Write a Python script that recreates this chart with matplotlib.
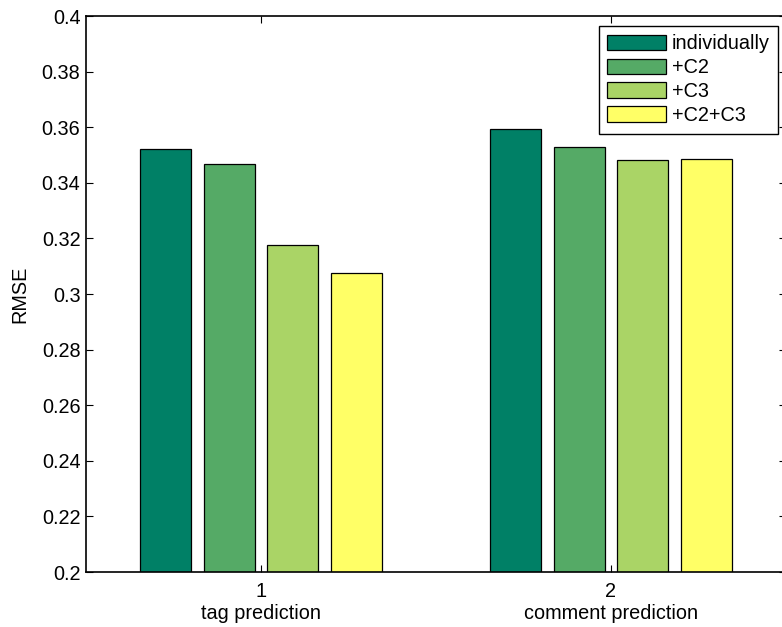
import matplotlib
matplotlib.use("Agg")
import matplotlib.pyplot as plt
import numpy as np

plt.rcParams['font.family'] = ['Liberation Sans', 'DejaVu Sans']

groups = ['1', '2']
group_names = ['tag prediction', 'comment prediction']
series = ['individually', '+C2', '+C3', '+C2+C3']
values = [
    [0.3521, 0.3595],   # individually
    [0.3467, 0.3530],   # +C2
    [0.3177, 0.3482],   # +C3
    [0.3076, 0.3487],   # +C2+C3
]
colors = ['#008066', '#55AA66', '#AAD466', '#FFFF66']
yticks = [0.2, 0.22, 0.24, 0.26, 0.28, 0.3, 0.32, 0.34, 0.36, 0.38, 0.4]
ytick_labels = ['0.2', '0.22', '0.24', '0.26', '0.28', '0.3', '0.32', '0.34', '0.36', '0.38', '0.4']

W, H = 782, 627
fig = plt.figure(figsize=(W / 100, H / 100), dpi=100)
ax = fig.add_axes([86 / W, (H - 572) / H, (786 - 86) / W, (572 - 16) / H])

x = np.arange(1, len(groups) + 1)
n = len(series)
spacing = 0.182
width = 0.145
for i, (name, vals, c) in enumerate(zip(series, values, colors)):
    off = (i - (n - 1) / 2) * spacing
    ax.bar(x + off, vals, width=width, color=c, edgecolor='black',
           linewidth=0.9, label=name, zorder=2)

FS = 14.3
ax.set_xlim(0.5, 2.5)
ax.set_ylim(0.2, 0.4)
ax.set_yticks(yticks)
ax.set_yticklabels(ytick_labels)
ax.set_xticks(x)
ax.set_xticklabels(groups)
ax.tick_params(axis='both', direction='in', length=5, width=0.8,
               labelsize=FS, top=True, right=True, colors='black')
ax.tick_params(axis='x', pad=7)
ax.tick_params(axis='y', pad=4)
for s in ax.spines.values():
    s.set_linewidth(1.2)
    s.set_color('black')

trans = matplotlib.transforms.blended_transform_factory(ax.transData, ax.transAxes)
for xi, nm in zip(x, group_names):
    ax.text(xi, -0.075, nm, transform=trans, ha='center', va='center', fontsize=FS)

ax.set_ylabel('RMSE', fontsize=FS, labelpad=9)

leg = ax.legend(loc='upper right', bbox_to_anchor=(778 / W, (H - 26) / H),
                bbox_transform=fig.transFigure, borderaxespad=0,
                fontsize=FS, handlelength=2.95, handleheight=0.85,
                handletextpad=0.3, labelspacing=0.25, borderpad=0.42,
                fancybox=False, framealpha=1, edgecolor='black')
leg.get_frame().set_linewidth(1.0)

fig.savefig('out.png', dpi=100, facecolor='white')
